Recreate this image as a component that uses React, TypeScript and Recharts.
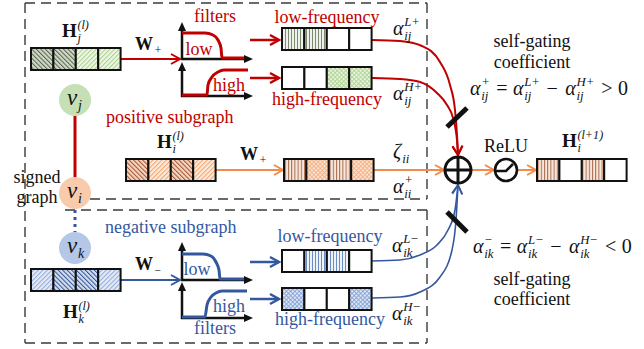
import { ComposedChart, Line, Scatter, XAxis, YAxis } from "recharts";

const W = 644;
const H = 349;
const RED = "#c00000";
const BLUE = "#34589f";
const ORANGE = "#f28c4c";
const INK = "#111";
const FONT = "'Liberation Serif', 'Times New Roman', serif";
const FS = { fontFamily: FONT };

// feature vectors: top-left corner + pattern of each of the 4 cells
const vectorPos = [
  { x: 31, y: 48 }, { x: 282, y: 28 }, { x: 282, y: 67 },
  { x: 126, y: 159 }, { x: 284, y: 159 }, { x: 537, y: 159 },
  { x: 31, y: 269 }, { x: 282, y: 250 }, { x: 282, y: 288 },
];
const vectorCells = [
  ["gDark", "gDark", "gLight", "gLight"],
  ["gVert", "gVert", "", ""],
  ["", "", "gCheck", "gCheck"],
  ["oDark", "oLight", "oDark", "oLight"],
  ["oVert", "oCheck", "oVert", "oCheck"],
  ["oVert", "", "oVert", ""],
  ["bLight", "bDark", "bDark", "bLight"],
  ["", "bVert", "bVert", ""],
  ["bCheck", "", "", "bCheck"],
];
const vectors = vectorPos.map((p, i) => ({ ...p, cells: vectorCells[i] }));

// graph nodes
const nodes = [
  { x: 75, y: 100, id: "j", fill: "#c5e0b4" },
  { x: 75, y: 193, id: "i", fill: "#f8cbad" },
  { x: 75, y: 248, id: "k", fill: "#b4c7e7" },
];

// dashed frames
const frames = [
  [{ x: 25, y: 3 }, { x: 427, y: 3 }],
  [{ x: 25, y: 3 }, { x: 25, y: 343 }],
  [{ x: 427, y: 3 }, { x: 427, y: 199 }],
  [{ x: 90, y: 199 }, { x: 427, y: 199 }],
  [{ x: 65, y: 210 }, { x: 427, y: 210 }],
  [{ x: 427, y: 210 }, { x: 427, y: 343 }],
  [{ x: 25, y: 343 }, { x: 427, y: 343 }],
];

// arrows: points, colour, width, curved
const arrows = [
  { pts: [{ x: 120, y: 59 }, { x: 180, y: 59 }], c: RED, w: 2, curve: false },
  { pts: [{ x: 250, y: 40 }, { x: 279, y: 40 }], c: RED, w: 2.5, curve: false },
  { pts: [{ x: 250, y: 78 }, { x: 279, y: 78 }], c: RED, w: 2.5, curve: false },
  { pts: [{ x: 372, y: 40 }, { x: 400, y: 41 }, { x: 422, y: 46 }, { x: 440, y: 62 }, { x: 450, y: 85 }, { x: 455, y: 110 }, { x: 457, y: 135 }, { x: 458, y: 155 }], c: RED, w: 2, curve: true },
  { pts: [{ x: 372, y: 78 }, { x: 400, y: 79 }, { x: 420, y: 82 }, { x: 437, y: 93 }, { x: 447, y: 105 }, { x: 453, y: 118 }, { x: 457, y: 140 }, { x: 458, y: 155 }], c: RED, w: 2, curve: true },
  { pts: [{ x: 120, y: 280 }, { x: 180, y: 280 }], c: BLUE, w: 2, curve: false },
  { pts: [{ x: 250, y: 262 }, { x: 279, y: 262 }], c: BLUE, w: 2.5, curve: false },
  { pts: [{ x: 250, y: 299 }, { x: 279, y: 299 }], c: BLUE, w: 2.5, curve: false },
  { pts: [{ x: 372, y: 261 }, { x: 400, y: 260 }, { x: 420, y: 255 }, { x: 437, y: 245 }, { x: 448, y: 230 }, { x: 455, y: 210 }, { x: 458, y: 185 }], c: BLUE, w: 1.6, curve: true },
  { pts: [{ x: 372, y: 298 }, { x: 400, y: 297 }, { x: 420, y: 292 }, { x: 440, y: 277 }, { x: 452, y: 250 }, { x: 456, y: 220 }, { x: 458, y: 185 }], c: BLUE, w: 1.6, curve: true },
  { pts: [{ x: 215, y: 170 }, { x: 283, y: 170 }], c: ORANGE, w: 2, curve: false },
  { pts: [{ x: 373, y: 170 }, { x: 444, y: 170 }], c: ORANGE, w: 2, curve: false },
  { pts: [{ x: 471, y: 170 }, { x: 494, y: 170 }], c: ORANGE, w: 2, curve: false },
  { pts: [{ x: 517, y: 170 }, { x: 536, y: 170 }], c: ORANGE, w: 2, curve: false },
];

// filter response curves
const filterCurves = [
  { pts: [{ x: 182, y: 33 }, { x: 205, y: 33 }, { x: 213, y: 35 }, { x: 218, y: 40 }, { x: 221, y: 48 }, { x: 222, y: 58 }, { x: 246, y: 58 }], c: RED },
  { pts: [{ x: 182, y: 95 }, { x: 207, y: 95 }, { x: 208, y: 85 }, { x: 212, y: 77 }, { x: 218, y: 72 }, { x: 224, y: 70 }, { x: 248, y: 70 }], c: RED },
  { pts: [{ x: 182, y: 254 }, { x: 203, y: 254 }, { x: 211, y: 256 }, { x: 216, y: 262 }, { x: 219, y: 270 }, { x: 220, y: 279 }, { x: 246, y: 279 }], c: BLUE },
  { pts: [{ x: 182, y: 317 }, { x: 205, y: 317 }, { x: 207, y: 305 }, { x: 211, y: 297 }, { x: 216, y: 293 }, { x: 222, y: 291 }, { x: 247, y: 291 }], c: BLUE },
];

// filter axes: origin, top of y axis, end of x axis
const filterAxes = [
  { x: 182, y: 59, top: 22, right: 253 },
  { x: 182, y: 96, top: 62, right: 253 },
  { x: 182, y: 280, top: 242, right: 253 },
  { x: 182, y: 318, top: 282, right: 253 },
];

const edges = [
  { pts: [{ x: 75, y: 116 }, { x: 75, y: 177 }], c: RED, dash: undefined },
  { pts: [{ x: 75, y: 210 }, { x: 75, y: 232 }], c: BLUE, dash: "3 4" },
];

const gates = [
  [{ x: 447, y: 127 }, { x: 467, y: 108 }],
  [{ x: 447, y: 212 }, { x: 467, y: 232 }],
];

const ops = [
  { x: 458, y: 170, kind: "sum" },
  { x: 506, y: 170, kind: "relu" },
];

const texts = [
  { x: 215, y: 22, t: "filters", c: RED, a: "middle" },
  { x: 199, y: 55, t: "low", c: RED, a: "middle" },
  { x: 229, y: 91, t: "high", c: RED, a: "middle" },
  { x: 327, y: 23, t: "low-frequency", c: RED, a: "middle" },
  { x: 327, y: 105, t: "high-frequency", c: RED, a: "middle" },
  { x: 106, y: 123, t: "positive subgraph", c: RED, a: "start" },
  { x: 532, y: 47, t: "self-gating", c: INK, a: "middle" },
  { x: 532, y: 68, t: "coefficient", c: INK, a: "middle" },
  { x: 37, y: 183, t: "signed", c: INK, a: "middle" },
  { x: 37, y: 203, t: "graph", c: INK, a: "middle" },
  { x: 506, y: 152, t: "ReLU", c: INK, a: "middle" },
  { x: 105, y: 233, t: "negative subgraph", c: BLUE, a: "start" },
  { x: 197, y: 275, t: "low", c: BLUE, a: "middle" },
  { x: 229, y: 312, t: "high", c: BLUE, a: "middle" },
  { x: 215, y: 334, t: "filters", c: BLUE, a: "middle" },
  { x: 330, y: 242, t: "low-frequency", c: BLUE, a: "middle" },
  { x: 330, y: 325, t: "high-frequency", c: BLUE, a: "middle" },
  { x: 532, y: 285, t: "self-gating", c: INK, a: "middle" },
  { x: 532, y: 305, t: "coefficient", c: INK, a: "middle" },
];

type Part = { t?: string; b?: boolean; op?: string; sub?: string; sup?: string };
const A: Part = { t: "α" };
const formulas: { x: number; y: number; s: number; parts: Part[] }[] = [
  { x: 62, y: 37, s: 19, parts: [{ t: "H", b: true }, { sub: "j", sup: "(l)" }] },
  { x: 135, y: 50, s: 18, parts: [{ t: "W", b: true }, { sub: "+" }] },
  { x: 157, y: 148, s: 19, parts: [{ t: "H", b: true }, { sub: "i", sup: "(l)" }] },
  { x: 240, y: 160, s: 18, parts: [{ t: "W", b: true }, { sub: "+" }] },
  { x: 63, y: 318, s: 19, parts: [{ t: "H", b: true }, { sub: "k", sup: "(l)" }] },
  { x: 135, y: 270, s: 18, parts: [{ t: "W", b: true }, { sub: "−" }] },
  { x: 562, y: 147, s: 19, parts: [{ t: "H", b: true }, { sub: "i", sup: "(l+1)" }] },
  { x: 393, y: 35, s: 20, parts: [A, { sub: "ij", sup: "L+" }] },
  { x: 393, y: 100, s: 20, parts: [A, { sub: "ij", sup: "H+" }] },
  { x: 393, y: 158, s: 20, parts: [{ t: "ζ" }, { sub: "ii" }] },
  { x: 393, y: 193, s: 20, parts: [A, { sub: "ii", sup: "+" }] },
  { x: 392, y: 252, s: 20, parts: [A, { sub: "ik", sup: "L−" }] },
  { x: 392, y: 320, s: 20, parts: [A, { sub: "ik", sup: "H−" }] },
  { x: 470, y: 95, s: 20, parts: [A, { sub: "ij", sup: "+" }, { op: "=" }, A, { sub: "ij", sup: "L+" }, { op: "−" }, A, { sub: "ij", sup: "H+" }, { op: ">" }, { t: "0" }] },
  { x: 473, y: 253, s: 20, parts: [A, { sub: "ik", sup: "−" }, { op: "=" }, A, { sub: "ik", sup: "L−" }, { op: "−" }, A, { sub: "ik", sup: "H−" }, { op: "<" }, { t: "0" }] },
];

const CW: Record<string, number> = {
  H: 0.76, W: 1.0, "α": 0.56, "ζ": 0.46, i: 0.28, j: 0.28, k: 0.44, l: 0.28, L: 0.56,
  "+": 0.66, "−": 0.66, "(": 0.33, ")": 0.33, "1": 0.5, "0": 0.5, "=": 0.56, ">": 0.56, "<": 0.56,
};
const tw = (s: string, size: number) => s.split("").reduce((a, ch) => a + (CW[ch] ?? 0.5) * size, 0);

function formulaShape(props: any) {
  const { cx, cy, payload } = props;
  const size: number = payload.s;
  let x = cx;
  const out: any[] = [];
  payload.parts.forEach((p: Part, k: number) => {
    if (p.t) {
      out.push(
        <text key={k} x={x} y={cy} fontSize={size} fontWeight={p.b ? "bold" : "normal"}
          fontStyle={p.b || p.t === "0" ? "normal" : "italic"} fill={INK} style={FS}>{p.t}</text>
      );
      x += tw(p.t, size) + (p.b ? 1 : 0);
    } else if (p.op) {
      x += size * 0.28;
      out.push(<text key={k} x={x} y={cy} fontSize={size} fill={INK} style={FS}>{p.op}</text>);
      x += tw(p.op, size) + size * 0.28;
    } else {
      const s = size * 0.64;
      if (p.sup) out.push(<text key={k + "u"} x={x} y={cy - size * 0.44} fontSize={s} fontStyle="italic" fill={INK} style={FS}>{p.sup}</text>);
      if (p.sub) out.push(<text key={k + "d"} x={x} y={cy + size * 0.24} fontSize={s} fontStyle="italic" fill={INK} style={FS}>{p.sub}</text>);
      x += Math.max(tw(p.sup ?? "", s), tw(p.sub ?? "", s)) + 1;
    }
  });
  return <g>{out}</g>;
}

const CELL_W = 22.4;
const CELL_H = 22;
function vectorShape(props: any) {
  const { cx, cy, payload } = props;
  return (
    <g>
      {payload.cells.map((c: string, k: number) => (
        <rect key={k} x={cx + k * CELL_W} y={cy} width={CELL_W} height={CELL_H}
          fill={c ? `url(#${c})` : "#fff"} stroke={INK} strokeWidth={2} />
      ))}
    </g>
  );
}

function nodeShape(props: any) {
  const { cx, cy, payload } = props;
  return (
    <g style={FS}>
      <circle cx={cx} cy={cy} r={16} fill={payload.fill} />
      <text x={cx - 8} y={cy + 5} fontSize={23} fontStyle="italic" fill={INK} style={FS}>v</text>
      <text x={cx + 3} y={cy + 10} fontSize={14} fontStyle="italic" fill={INK} style={FS}>{payload.id}</text>
    </g>
  );
}

function opShape(props: any) {
  const { cx, cy, payload } = props;
  if (payload.kind === "sum") {
    return (
      <g stroke={INK} strokeWidth={3} fill="#fff">
        <circle cx={cx} cy={cy} r={13} />
        <line x1={cx - 13} y1={cy} x2={cx + 13} y2={cy} />
        <line x1={cx} y1={cy - 13} x2={cx} y2={cy + 13} />
      </g>
    );
  }
  return (
    <g stroke={INK} strokeWidth={2.6} fill="none">
      <circle cx={cx} cy={cy} r={11} fill="#fff" />
      <polyline points={`${cx - 10},${cy + 1} ${cx},${cy + 1} ${cx + 7},${cy - 6}`} />
    </g>
  );
}

function textShape(props: any) {
  const { cx, cy, payload } = props;
  return (
    <text x={cx} y={cy} fontSize={18} fill={payload.c} textAnchor={payload.a} style={FS}>{payload.t}</text>
  );
}

function triShape(props: any) {
  const { cx, cy, payload } = props;
  const pts = payload.dir === "up"
    ? `${cx},${cy} ${cx - 4},${cy + 9} ${cx + 4},${cy + 9}`
    : `${cx},${cy} ${cx - 9},${cy - 4} ${cx - 9},${cy + 4}`;
  return <polygon points={pts} fill={INK} />;
}

// open chevron head at the end of a polyline
function headOf(pts: { x: number; y: number }[]) {
  const a = pts[pts.length - 2];
  const b = pts[pts.length - 1];
  const dx = b.x - a.x;
  const dy = b.y - a.y;
  const len = Math.hypot(dx, dy) || 1;
  const ux = dx / len, uy = dy / len;
  return [
    { x: b.x - 9 * ux - 5 * uy, y: b.y - 9 * uy + 5 * ux },
    { x: b.x, y: b.y },
    { x: b.x - 9 * ux + 5 * uy, y: b.y - 9 * uy - 5 * ux },
  ];
}

const axisTips = filterAxes.flatMap((f) => [
  { x: f.x, y: f.top, dir: "up" },
  { x: f.right, y: f.y, dir: "right" },
]);

function hatch(id: string, bg: string, fg: string, angle: number, gap = 3.2, sw = 1) {
  return (
    <pattern key={id} id={id} width={gap} height={gap} patternUnits="userSpaceOnUse" patternTransform={`rotate(${angle})`}>
      <rect width={gap} height={gap} fill={bg} />
      <line x1={0.5} y1={0} x2={0.5} y2={gap} stroke={fg} strokeWidth={sw} />
    </pattern>
  );
}
function cross(id: string, bg: string, fg: string, gap = 3) {
  return (
    <pattern key={id} id={id} width={gap} height={gap} patternUnits="userSpaceOnUse" patternTransform="rotate(45)">
      <rect width={gap} height={gap} fill={bg} />
      <line x1={0.5} y1={0} x2={0.5} y2={gap} stroke={fg} strokeWidth={0.8} />
      <line x1={0} y1={0.5} x2={gap} y2={0.5} stroke={fg} strokeWidth={0.8} />
    </pattern>
  );
}

export default function App() {
  return (
    <div style={{ position: "absolute", left: 0, top: 0, width: W, height: H, background: "#fff", fontFamily: FONT }}>
      <ComposedChart width={W} height={H} margin={{ top: 0, right: 0, bottom: 0, left: 0 }}>
        <defs>
          {hatch("gDark", "#cfd8c6", "#56644e", -45)}
          {hatch("gLight", "#eef6e4", "#a9d18e", 45)}
          {hatch("gVert", "#eef2ea", "#7d8a72", 0, 3, 1)}
          {cross("gCheck", "#eaf4e0", "#a9d18e")}
          {hatch("oDark", "#f6d3bd", "#a0522d", -45)}
          {hatch("oLight", "#fde9da", "#f4a46c", 45)}
          {hatch("oVert", "#f9e6da", "#a86a4c", 0, 3.2, 1)}
          {cross("oCheck", "#fce4d2", "#f2ab7c")}
          {hatch("bLight", "#e3eaf6", "#8faadc", 45)}
          {hatch("bDark", "#d2dcee", "#2f5597", -45)}
          {hatch("bVert", "#eef2f9", "#6d8cc4", 0, 3, 1)}
          {cross("bCheck", "#dde6f4", "#7f9cd3")}
        </defs>
        <XAxis dataKey="x" type="number" domain={[0, W]} allowDataOverflow hide />
        <YAxis dataKey="y" type="number" domain={[0, H]} allowDataOverflow reversed hide />

        {frames.map((seg, i) => (
          <Line key={"f" + i} data={seg} dataKey="y" type="linear" stroke="#3a3a3a" strokeWidth={1.4}
            strokeDasharray="10 6" dot={false} activeDot={false} isAnimationActive={false} />
        ))}
        {edges.map((e, i) => (
          <Line key={"e" + i} data={e.pts} dataKey="y" type="linear" stroke={e.c} strokeWidth={3}
            strokeDasharray={e.dash} dot={false} activeDot={false} isAnimationActive={false} />
        ))}
        {filterAxes.map((f, i) => (
          <Line key={"ax" + i} data={[{ x: f.x, y: f.top + 6 }, { x: f.x, y: f.y }, { x: f.right - 6, y: f.y }]}
            dataKey="y" type="linear" stroke={INK} strokeWidth={2.5} dot={false} activeDot={false} isAnimationActive={false} />
        ))}
        {filterCurves.map((f, i) => (
          <Line key={"fc" + i} data={f.pts} dataKey="y" type="monotone" stroke={f.c} strokeWidth={3}
            dot={false} activeDot={false} isAnimationActive={false} />
        ))}
        {arrows.map((a, i) => (
          <Line key={"a" + i} data={a.pts} dataKey="y" type={a.curve ? "monotone" : "linear"} stroke={a.c}
            strokeWidth={a.w} dot={false} activeDot={false} isAnimationActive={false} />
        ))}
        {arrows.map((a, i) => (
          <Line key={"h" + i} data={headOf(a.pts)} dataKey="y" type="linear" stroke={a.c}
            strokeWidth={a.w} dot={false} activeDot={false} isAnimationActive={false} />
        ))}
        {gates.map((g, i) => (
          <Line key={"g" + i} data={g} dataKey="y" type="linear" stroke={INK} strokeWidth={5}
            dot={false} activeDot={false} isAnimationActive={false} />
        ))}
        <Scatter data={axisTips} dataKey="y" shape={triShape} isAnimationActive={false} />
        <Scatter data={vectors} dataKey="y" shape={vectorShape} isAnimationActive={false} />
        <Scatter data={nodes} dataKey="y" shape={nodeShape} isAnimationActive={false} />
        <Scatter data={ops} dataKey="y" shape={opShape} isAnimationActive={false} />
        <Scatter data={texts} dataKey="y" shape={textShape} isAnimationActive={false} />
        <Scatter data={formulas} dataKey="y" shape={formulaShape} isAnimationActive={false} />
      </ComposedChart>
    </div>
  );
}
